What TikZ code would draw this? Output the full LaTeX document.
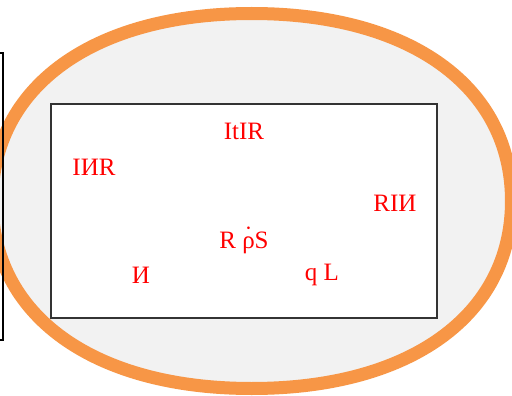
\documentclass[tikz,border=0pt]{standalone}
\usepackage{fontspec}
\setmainfont{Liberation Serif}
\definecolor{ringorange}{HTML}{F79646}
\definecolor{ringfill}{HTML}{F2F2F2}
\newcommand{\rhodot}{{\ooalign{ρ\cr\hidewidth\raisebox{0.2em}{˙}\hidewidth}}}
\begin{document}
\begin{tikzpicture}[x=1pt,y=-1pt,
  lbl/.style={text=red,font=\fontsize{25}{28}\selectfont,inner sep=0pt},
  frame/.style={draw=black!80,line width=1.3pt},
  ring/.style={draw=ringorange,fill=ringfill,line width=13pt}]
\useasboundingbox (0,0) rectangle (512,396);
\fill[white] (0,0) rectangle (512,396);
% outer rounded ring
\path[ring] (251.75,13.5)
  .. controls (93.35,13.5) and (-8,86.6) .. (-8,201)
  .. controls (-8,315.4) and (93.35,388.5) .. (251.75,388.5)
  .. controls (410.15,388.5) and (511.5,315.4) .. (511.5,201)
  .. controls (511.5,86.6) and (410.15,13.5) .. (251.75,13.5) -- cycle;
% inner panel
\node[frame,fill=white,minimum width=386pt,minimum height=214pt,inner sep=0pt] (panel) at (244,211) {};
% side bar, mostly outside the page
\draw[line width=1.3pt] (-20,53) rectangle (3,340);
% labels
\node[lbl] (t1) at (244,131) {ItIR};
\node[lbl] (t2) at (94,167) {IИR};
\node[lbl] (t3) at (395,203) {RIИ};
\node[lbl] (t4) at (244,240) {R \rhodot S};
\node[lbl] (t5) at (141,275) {И};
\node[lbl] (t6) at (322,275) {q L};
\end{tikzpicture}
\end{document}
